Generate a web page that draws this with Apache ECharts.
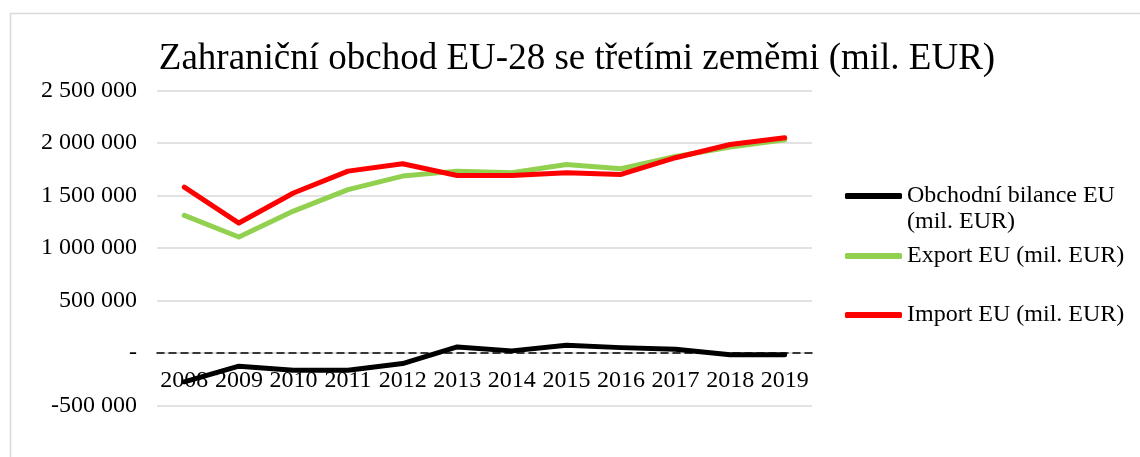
<!DOCTYPE html>
<html>
<head>
<meta charset="utf-8">
<script src="https://cdn.jsdelivr.net/npm/echarts@6/dist/echarts.min.js"></script>
<style>
html, body { margin: 0; padding: 0; background: #fff; }
#chart { width: 1140px; height: 457px; }
</style>
</head>
<body>
<div id="chart"></div>
<script>
// data (mil. EUR)
var years = ['2008', '2009', '2010', '2011', '2012', '2013', '2014', '2015', '2016', '2017', '2018', '2019'];
var balance = [-276000, -127000, -165000, -165000, -102000, 57000, 19000, 73000, 50000, 35000, -19000, -17000];
var exportEU = [1311000, 1105000, 1352000, 1556000, 1686000, 1733000, 1718000, 1797000, 1756000, 1873000, 1962000, 2032000];
var importEU = [1581000, 1238000, 1524000, 1733000, 1804000, 1692000, 1692000, 1718000, 1702000, 1861000, 1987000, 2051000];

var nameBal = 'Obchodní bilance EU\n(mil. EUR)';
var nameExp = 'Export EU (mil. EUR)';
var nameImp = 'Import EU (mil. EUR)';

var serif = 'Liberation Serif';

function fmt(v) {
  if (v === 0) return '-';
  var s = String(Math.abs(v)).replace(/\B(?=(\d{3})+(?!\d))/g, ' ');
  return (v < 0 ? '-' : '') + s;
}

function legendAt(name, top, blankFirst) {
  return {
    data: [name],
    left: 845,
    top: top,
    padding: 0,
    icon: 'roundRect',
    itemWidth: 57,
    itemHeight: 6,
    selectedMode: false,
    // blank first line keeps the icon level with the first text line
    formatter: function (n) { return blankFirst ? ' \n' + n : n; },
    textStyle: { fontFamily: serif, fontSize: 24, color: '#000', lineHeight: 26 }
  };
}

var option = {
  animation: false,
  backgroundColor: '#fff',
  graphic: [{
    type: 'rect',
    shape: { x: 10.5, y: 13.5, width: 1200, height: 500 },
    style: { fill: 'none', stroke: '#d9d9d9', lineWidth: 1.5 },
    silent: true
  }],
  title: {
    text: 'Zahraniční obchod EU-28 se třetími zeměmi (mil. EUR)',
    left: 577,
    textAlign: 'center',
    top: 41,
    padding: 0,
    textStyle: { fontFamily: serif, fontSize: 37, fontWeight: 'normal', color: '#000' }
  },
  legend: [
    legendAt(nameBal, 157, true),
    legendAt(nameExp, 243, false),
    legendAt(nameImp, 302, false)
  ],
  grid: { left: 157, right: 328, top: 90.7, bottom: 51.7 },
  xAxis: {
    type: 'category',
    data: years,
    boundaryGap: true,
    offset: -52.6,
    axisLine: { onZero: false, lineStyle: { color: '#000', width: 1.5, type: [7, 5] } },
    axisTick: { show: false },
    axisLabel: { fontFamily: serif, fontSize: 24, color: '#000', margin: 16, interval: 0 }
  },
  yAxis: {
    type: 'value',
    min: -500000,
    max: 2500000,
    interval: 500000,
    axisLine: { show: false },
    axisTick: { show: false },
    splitLine: { lineStyle: { color: '#d9d9d9', width: 1.5 } },
    axisLabel: { fontFamily: serif, fontSize: 24, color: '#000', margin: 20, formatter: fmt }
  },
  series: [
    {
      name: nameBal, type: 'line', data: balance, symbol: 'none', z: 5,
      color: '#000000',
      lineStyle: { width: 5, color: '#000000', join: 'round', cap: 'round' }
    },
    {
      name: nameExp, type: 'line', data: exportEU, symbol: 'none', z: 5,
      color: '#92d050',
      lineStyle: { width: 5, color: '#92d050', join: 'round', cap: 'round' }
    },
    {
      name: nameImp, type: 'line', data: importEU, symbol: 'none', z: 5,
      color: '#ff0000',
      lineStyle: { width: 5, color: '#ff0000', join: 'round', cap: 'round' }
    }
  ]
};

echarts.init(document.getElementById('chart')).setOption(option);
</script>
</body>
</html>
